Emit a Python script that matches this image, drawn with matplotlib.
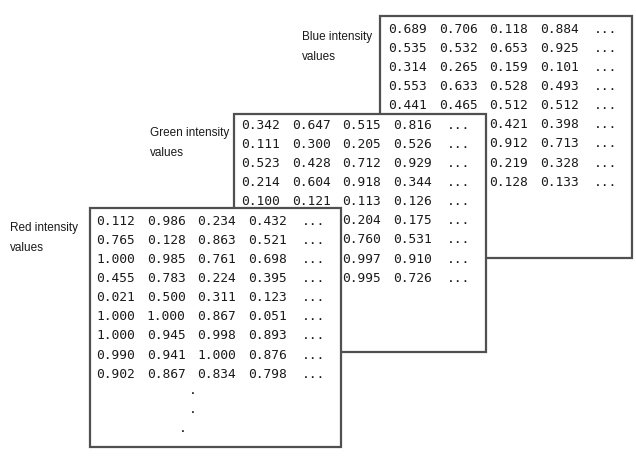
import matplotlib.pyplot as plt
from matplotlib.patches import Rectangle

# intensity values shown in each plane (None = hidden behind the plane in front)
red_vals = [
    [0.112, 0.986, 0.234, 0.432],
    [0.765, 0.128, 0.863, 0.521],
    [1.000, 0.985, 0.761, 0.698],
    [0.455, 0.783, 0.224, 0.395],
    [0.021, 0.500, 0.311, 0.123],
    [1.000, 1.000, 0.867, 0.051],
    [1.000, 0.945, 0.998, 0.893],
    [0.990, 0.941, 1.000, 0.876],
    [0.902, 0.867, 0.834, 0.798],
]
green_vals = [
    [0.342, 0.647, 0.515, 0.816],
    [0.111, 0.300, 0.205, 0.526],
    [0.523, 0.428, 0.712, 0.929],
    [0.214, 0.604, 0.918, 0.344],
    [0.100, 0.121, 0.113, 0.126],
    [None, None, 0.204, 0.175],
    [None, None, 0.760, 0.531],
    [None, None, 0.997, 0.910],
    [None, None, 0.995, 0.726],
]
blue_vals = [
    [0.689, 0.706, 0.118, 0.884],
    [0.535, 0.532, 0.653, 0.925],
    [0.314, 0.265, 0.159, 0.101],
    [0.553, 0.633, 0.528, 0.493],
    [0.441, 0.465, 0.512, 0.512],
    [None, None, 0.421, 0.398],
    [None, None, 0.912, 0.713],
    [None, None, 0.219, 0.328],
    [None, None, 0.128, 0.133],
]
labels = ["Blue intensity\nvalues", "Green intensity\nvalues", "Red intensity\nvalues"]

fig = plt.figure(figsize=(6.36, 4.74), dpi=100)
ax = fig.add_axes([0, 0, 1, 1])
ax.set_xlim(0, 636)
ax.set_ylim(474, 0)
ax.axis("off")

edge = "#505050"
ink = "#1a1a1a"
col_step = 50.7
row_step = 19.15

# (box left, top, right, bottom), text x0, first row y, label x, label y
planes = [
    (blue_vals, (380, 16, 632, 258), 388, 29, 302, 47),
    (green_vals, (234, 114, 486, 352), 241, 125, 150, 143),
    (red_vals, (90, 208, 341, 447), 96, 221, 10, 238),
]

z = 1
for (vals, (l, t, r, b), x0, y0, lx, ly), lab in zip(planes, labels):
    ax.add_patch(Rectangle((l, t), r - l, b - t, facecolor="white",
                           edgecolor=edge, lw=1.6, zorder=z))
    for i, row in enumerate(vals):
        y = y0 + i * row_step
        for j, v in enumerate(row):
            if v is None:
                continue
            ax.text(x0 + j * col_step, y, "%.3f" % v, family="DejaVu Sans Mono",
                    fontsize=9.3, color=ink, va="center", ha="left", zorder=z + 1)
        ax.text(x0 + 4 * col_step + 3, y, "...", family="DejaVu Sans Mono",
                fontsize=9.3, color=ink, va="center", ha="left", zorder=z + 1)
    ax.text(lx, ly, lab, family="Liberation Sans", fontsize=8.5, color=ink,
            va="center", ha="left", linespacing=1.9, zorder=z + 1)
    z += 2

# vertical ellipsis under the red plane
for dx, dy in [(193, 397), (193, 416), (183, 435)]:
    ax.text(dx, dy, ".", family="DejaVu Sans Mono", fontsize=9.3,
            color=ink, va="bottom", ha="center", zorder=z)

fig.savefig("out.png", dpi=100)
